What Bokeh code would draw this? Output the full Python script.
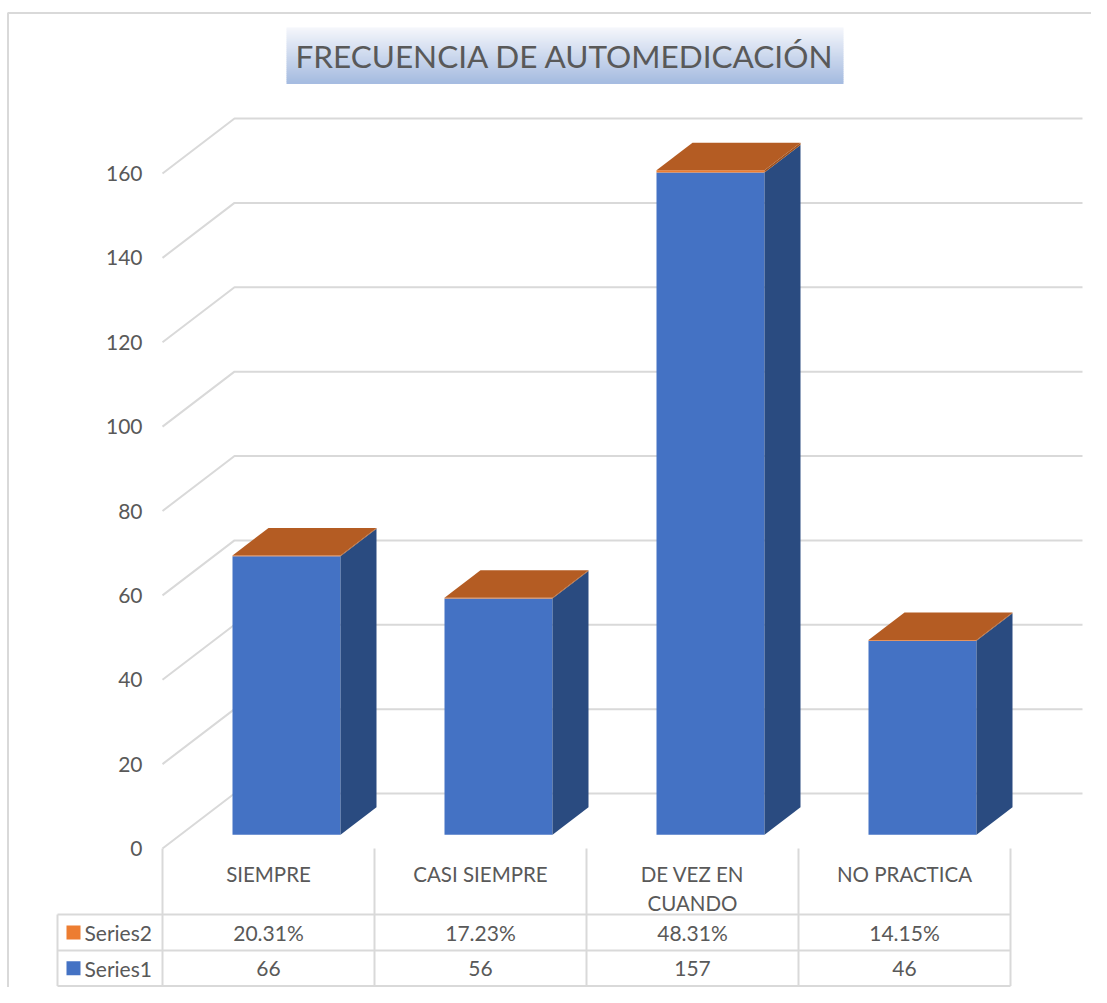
import numpy as np
from bokeh.plotting import figure
from bokeh.models import Range1d
from bokeh.core.properties import value
from bokeh.embed import file_html
from bokeh.resources import INLINE

# ---------------- data ----------------
chart_title = "FRECUENCIA DE AUTOMEDICACIÓN"
categories = ["SIEMPRE", "CASI SIEMPRE", "DE VEZ EN\nCUANDO", "NO PRACTICA"]
series1 = [66, 56, 157, 46]
series2 = [0.2031, 0.1723, 0.4831, 0.1415]
series2_labels = ["20.31%", "17.23%", "48.31%", "14.15%"]
series1_labels = ["66", "56", "157", "46"]
series_names = ["Series2", "Series1"]
y_ticks = [0, 20, 40, 60, 80, 100, 120, 140, 160]

# ---------------- layout / projection ----------------
W, H = 1091, 987
X0_PX, CAT_PX = 162.0, 212.0      # category axis origin and width (px)
Y0_PX, VAL_PX = 848.0, 4.21875    # value axis origin and px per unit
DEPTH_PX = (72.0, 55.0)           # oblique depth offset of full floor (px)
DX = DEPTH_PX[0] / CAT_PX         # depth offset in category units
DV = DEPTH_PX[1] / VAL_PX         # depth offset in value units
BAR_HALF = 54.0 / CAT_PX
D_FRONT, D_BACK = 0.25, 0.75      # bar depth span

def X(px):
    return (px - X0_PX) / CAT_PX

def V(py):
    return (Y0_PX - py) / VAL_PX

FONT = value("Lato")
TXT = "#595959"
GRID = "#D9D9D9"

p = figure(width=W, height=H, output_backend="svg", toolbar_location=None,
           x_range=Range1d(X(0), X(W)),
           y_range=Range1d(V(H), V(0)),
           x_axis_location=None, y_axis_location=None, min_border=0)
p.grid.visible = False
p.outline_line_color = None
p.background_fill_color = "white"
p.border_fill_color = "white"

# chart border
p.line([X(7.5), X(7.5), X(W)], [V(H), V(12.5), V(12.5)],
       line_color=GRID, line_width=2)

# title box with vertical gradient
top_c = np.array([0xF4, 0xF6, 0xFB])
bot_c = np.array([0xA6, 0xBC, 0xE1])
ty0, ty1, tx0, tx1 = 27, 83, 286, 843
n = 28
for k in range(n):
    t = k / (n - 1)
    c = (top_c * (1 - t) + bot_c * t).astype(int)
    col = "#%02x%02x%02x" % tuple(c)
    ya = ty0 + (ty1 - ty0) * k / n
    yb = ty0 + (ty1 - ty0) * (k + 1) / n
    p.quad(left=X(tx0), right=X(tx1), top=V(ya), bottom=V(yb + 0.5),
           fill_color=col, line_color=None)
p.text(x=[X((tx0 + tx1) / 2)], y=[V(55)], text=[chart_title], text_font=FONT,
       text_font_size="31.5px", text_color=TXT, text_align="center",
       text_baseline="middle")

# ---------------- walls / gridlines ----------------
ncat = len(categories)
gx, gy = [], []
for t in y_ticks:
    gx.append([0, DX, ncat + DX])
    gy.append([t, t + DV, t + DV])
p.multi_line(gx, gy, line_color=GRID, line_width=2)

# y tick labels
p.text(x=[X(142)] * len(y_ticks), y=y_ticks, text=[str(t) for t in y_ticks],
       text_font=FONT, text_font_size="21px", text_color=TXT,
       text_align="right", text_baseline="middle")

# ---------------- 3D bars ----------------
BLUE, BLUE_SIDE = "#4472C4", "#2A4B80"
ORANGE, ORANGE_SIDE, ORANGE_TOP = "#ED7D31", "#A0521E", "#B45C23"
ddx = (D_BACK - D_FRONT) * DX
ddv = (D_BACK - D_FRONT) * DV
for i in range(ncat):
    cx = i + 0.5 + D_FRONT * DX
    base = D_FRONT * DV
    l, r = cx - BAR_HALF, cx + BAR_HALF
    v1 = series1[i]
    v2 = series1[i] + series2[i]
    # front faces
    p.quad(left=[l], right=[r], bottom=[base], top=[base + v1],
           fill_color=BLUE, line_color=None)
    p.quad(left=[l], right=[r], bottom=[base + v1], top=[base + v2],
           fill_color=ORANGE, line_color=None)
    # side faces
    p.patch([r, r + ddx, r + ddx, r], [base, base + ddv, base + v1 + ddv, base + v1],
            fill_color=BLUE_SIDE, line_color=None)
    p.patch([r, r + ddx, r + ddx, r],
            [base + v1, base + v1 + ddv, base + v2 + ddv, base + v2],
            fill_color=ORANGE_SIDE, line_color=None)
    # top face
    p.patch([l, r, r + ddx, l + ddx],
            [base + v2, base + v2, base + v2 + ddv, base + v2 + ddv],
            fill_color=ORANGE_TOP, line_color=None)

# ---------------- data table ----------------
row_y = [914, 950, 985.5]        # px of table row borders
left_px = 57
vx, vy = [], []
for i in range(ncat + 1):
    vx.append([i, i])
    vy.append([0, V(row_y[-1])])
vx.append([X(left_px), X(left_px)])
vy.append([V(row_y[0]), V(row_y[-1])])
p.multi_line(vx, vy, line_color=GRID, line_width=2)
hx, hy = [], []
for ry in row_y:
    hx.append([X(left_px), ncat])
    hy.append([V(ry), V(ry)])
p.multi_line(hx, hy, line_color=GRID, line_width=2)

# category labels (multi-line split)
cxs, cys, ctx = [], [], []
for i, c in enumerate(categories):
    for j, line in enumerate(c.split("\n")):
        cxs.append(i + 0.5)
        cys.append(V(873 + 29 * j))
        ctx.append(line)
p.text(x=cxs, y=cys, text=ctx, text_font=FONT, text_font_size="20.5px",
       text_color=TXT, text_align="center", text_baseline="middle")

row_centers = [(row_y[0] + row_y[1]) / 2, (row_y[1] + row_y[2]) / 2]
for rc, labels in zip(row_centers, [series2_labels, series1_labels]):
    p.text(x=[i + 0.5 for i in range(ncat)], y=[V(rc)] * ncat, text=labels,
           text_font=FONT, text_font_size="21px", text_color=TXT,
           text_align="center", text_baseline="middle")

# legend keys
key_colors = [ORANGE, BLUE]
p.quad(left=[X(66)] * 2, right=[X(80)] * 2,
       top=[V(rc - 7) for rc in row_centers],
       bottom=[V(rc + 7) for rc in row_centers],
       fill_color=key_colors, line_color=None)
p.text(x=[X(84)] * 2, y=[V(rc) for rc in row_centers], text=series_names,
       text_font=FONT, text_font_size="21px", text_color=TXT,
       text_align="left", text_baseline="middle")

open("out.html", "w").write(file_html(p, INLINE))
